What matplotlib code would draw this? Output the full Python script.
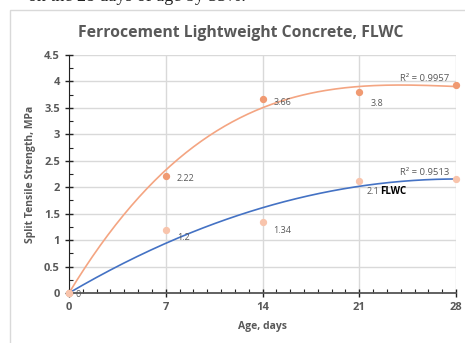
import matplotlib.pyplot as plt
import numpy as np
from matplotlib.patches import Rectangle
from matplotlib.ticker import MultipleLocator

age = [0, 7, 14, 21, 28]
ferro = [0, 2.22, 3.66, 3.8, 3.93]
flwc = [0, 1.2, 1.34, 2.12, 2.15]
ferro_labels = ['0', '2.22', '3.66', '3.8', '3.93']
flwc_labels = ['0', '1.2', '1.34', '2.1', '2.15']
r2_ferro = 'R² = 0.9957'
r2_flwc = 'R² = 0.9513'

grey = '#595959'
plt.rcParams['font.family'] = ['Open Sans', 'DejaVu Sans']


def fit_through_origin(x, y, order):
    # polynomial trendline with the intercept set to 0
    x = np.asarray(x, float)
    A = np.column_stack([x ** k for k in range(1, order + 1)])
    coef = np.linalg.lstsq(A, np.asarray(y, float), rcond=None)[0]
    return lambda t: sum(c * t ** (k + 1) for k, c in enumerate(coef))


fig = plt.figure(figsize=(4.65, 3.43), dpi=100)
fig.patches.append(Rectangle((10 / 465, -0.1), 1.0, 1 - 10 / 343 + 0.1, transform=fig.transFigure,
                             fill=False, edgecolor='#D9D9D9', linewidth=1))
fig.text(0.06, 1.012, 'on the 28 days of age by 33%.', family='Liberation Serif', fontsize=13,
         va='center', ha='left', color='#222222')

ax = fig.add_axes([69 / 465, 1 - 293 / 343, (456 - 69) / 465, (293 - 55) / 343])
ax.set_xlim(0, 28)
ax.set_ylim(0, 4.5)
ax.xaxis.set_major_locator(MultipleLocator(7))
ax.xaxis.set_minor_locator(MultipleLocator(1))
ax.yaxis.set_minor_locator(MultipleLocator(0.25))
ax.set_yticks(np.arange(0, 4.51, 0.5))
ax.set_yticklabels(['0', '0.5', '1', '1.5', '2', '2.5', '3', '3.5', '4', '4.5'])
ax.grid(True, which='major', color='#D9D9D9', linewidth=1)
ax.set_axisbelow(True)
for s in ['top', 'right']:
    ax.spines[s].set_visible(False)
ax.spines['left'].set_color('#222222')
ax.spines['bottom'].set_color('#555555')
ax.spines['bottom'].set_linewidth(1.3)
ax.tick_params(which='major', direction='inout', length=6, color='#222222', width=1,
               labelsize=8, labelcolor=grey)
ax.tick_params(which='minor', direction='in', length=3, color='#222222', width=0.8)
for lab in ax.get_xticklabels() + ax.get_yticklabels():
    lab.set_fontweight('bold')

xs = np.linspace(0, 28, 200)
ax.plot(xs, fit_through_origin(age, ferro, 3)(xs), color='#F4A582', linewidth=1.2, zorder=2)
ax.plot(xs, fit_through_origin(age, flwc, 2)(xs), color='#4472C4', linewidth=1.2, zorder=2)

ax.scatter(age, ferro, s=18, color='#F09A72', zorder=3, clip_on=False)
ax.scatter(age, flwc, s=18, color='#F8C4AC', zorder=3, clip_on=False)

for x, y, t in zip(age[1:], ferro[1:], ferro_labels[1:]):
    dy = -8 if x >= 21 else -2
    ax.annotate(t, (x, y), xytext=(8, dy), textcoords='offset points', fontsize=6.5,
                color=grey, va='center', annotation_clip=False)
for x, y, t in zip(age[1:], flwc[1:], flwc_labels[1:]):
    dy = -8 if x == 21 else -6
    dx = 5 if x == 21 else 8
    ax.annotate(t, (x, y), xytext=(dx, dy), textcoords='offset points', fontsize=6.5,
                color=grey, va='center', annotation_clip=False)
ax.annotate('FLWC', (21, flwc[3]), xytext=(15, -8), textcoords='offset points', fontsize=7,
            fontweight='bold', color='black', va='center')
ax.annotate('0', (0, 0), xytext=(5, -1), textcoords='offset points', fontsize=6.5,
            color=grey, va='center')
ax.text(27.5, 3.98, r2_ferro, fontsize=6.8, color=grey, ha='right', va='bottom')
ax.text(27.5, 2.2, r2_flwc, fontsize=6.8, color=grey, ha='right', va='bottom')

ax.set_title('Ferrocement Lightweight Concrete, FLWC', fontsize=11.3, fontweight='bold',
             color=grey, pad=13, x=0.445)
ax.set_xlabel('Age, days', fontsize=7.5, fontweight='bold', color=grey, labelpad=6)
ax.set_ylabel('Split Tensile Strength, MPa', fontsize=7.5, fontweight='bold', color=grey,
              labelpad=6)

fig.savefig('out.png', dpi=100)
